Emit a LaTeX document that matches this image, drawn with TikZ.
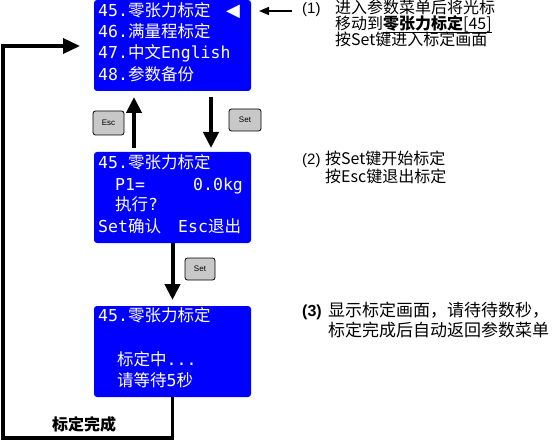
\documentclass[tikz,border=0pt]{standalone}
\usepackage{fontspec}
\setmainfont{Noto Sans CJK SC}
\newfontfamily\monof{DejaVu Sans Mono}
\newfontfamily\symf{DejaVu Sans}
\newfontfamily\latf{Liberation Sans}
\usetikzlibrary{arrows.meta}
\definecolor{lcdblue}{RGB}{0,0,255}
\definecolor{btngray}{RGB}{200,200,200}
\newcommand\mm[1]{{\monof #1}}
\newsavebox\ulbox
\newcommand\myul[1]{\sbox\ulbox{#1}\rlap{\raisebox{-3.5pt}{\rule{\wd\ulbox}{1.6pt}}}\usebox\ulbox}
\begin{document}
\begin{tikzpicture}[x=1pt,y=-1pt,
 lcd/.style={fill=lcdblue, draw=none, rounded corners=3pt, minimum width=157pt, minimum height=91pt, anchor=north west, inner sep=0pt, outer sep=0pt},
 lcdtxt/.style={text=white, font=\fontsize{16.5}{18}\selectfont, anchor=west, inner sep=0pt, text height=0.88em, text depth=0.12em},
 btn/.style={fill=btngray, draw=black, line width=0.8pt, rounded corners=2.5pt, inner sep=0pt, font=\latf\fontsize{8}{9}\selectfont},
 bigarr/.style={line width=4pt, -{Triangle[length=16pt,width=15pt]}},
 looparr/.style={line width=3.5pt, -{Triangle[length=17pt,width=15pt]}},
 note/.style={anchor=west, inner sep=0pt, font=\fontsize{16}{17}\selectfont, text height=0.88em, text depth=0.12em},
 notel/.style={anchor=west, inner sep=0pt, font=\fontsize{17}{18}\selectfont, text height=0.88em, text depth=0.12em},
]
\useasboundingbox (0,0) rectangle (560,441);
% LCD boxes
\node[lcd] (box1) at (94,0) {};
\node[lcd] (box2) at (94,152) {};
\node[lcd] (box3) at (94,306) {};
% box 1 text
\node[lcdtxt] (b1l1) at (98,13) {\mm{45.}零张力标定};
\node[text=white, inner sep=0pt, font=\symf\fontsize{18}{18}\selectfont] (b1cur) at (233,12) {◀};
\node[lcdtxt] (b1l2) at (98,34) {\mm{46.}满量程标定};
\node[lcdtxt] (b1l3) at (98,55) {\mm{47.}中文\mm{English}};
\node[lcdtxt] (b1l4) at (98,77) {\mm{48.}参数备份};
% box 2 text
\node[lcdtxt] (b2l1) at (98,165) {\mm{45.}零张力标定};
\node[lcdtxt] (b2p) at (115,187) {\mm{P1=}};
\node[lcdtxt] (b2v) at (193,187) {\mm{0.0kg}};
\node[lcdtxt] (b2l3) at (115,207) {执行\mm{?}};
\node[lcdtxt] (b2l4a) at (98,229) {\mm{Set}确认};
\node[lcdtxt] (b2l4b) at (178,229) {\mm{Esc}退出};
% box 3 text
\node[lcdtxt] (b3l1) at (98,318) {\mm{45.}零张力标定};
\node[lcdtxt] (b3l2) at (117,362) {标定中\mm{...}};
\node[lcdtxt] (b3l3) at (117,383) {请等待\mm{5}秒};
% buttons
\node[btn, minimum width=31pt, minimum height=24pt] (esc) at (108.5,123) {Esc};
\node[btn, minimum width=32pt, minimum height=22pt] (set1) at (245,120) {Set};
\node[btn, minimum width=30pt, minimum height=22pt] (set2) at (200,269) {Set};
% arrows
\coordinate (escx) at (134,0);
\coordinate (setx) at (211,0);
\draw[bigarr, shorten <=4pt, shorten >=6pt] (box2.north -| escx) -- (box1.south -| escx);
\draw[bigarr, shorten <=6pt, shorten >=4pt] (box1.south -| setx) -- (box2.north -| setx);
\draw[bigarr, shorten >=6pt] (box2.south) -- (box3.north);
\coordinate (bl) at (3,438);
\coordinate (tl) at (3,46);
\draw[looparr, shorten >=14pt] (box3.south) |- (bl) -- (tl) -- (tl -| box1.west);
\node[anchor=west, inner sep=0pt, font=\bfseries\fontsize{16}{17}\selectfont] (done) at (52,424) {标定完成};
% notes
\coordinate (n1) at (292,11);
\draw[line width=1.5pt, -{Triangle[length=10pt,width=8pt]}, shorten >=8pt] (n1) -- (n1 -| box1.east);
\node[note, font=\latf\fontsize{15}{16}\selectfont] (p1) at (302,10) {(1)};
\node[note] (t1a) at (335,10) {进入参数菜单后将光标};
\node[note] (t1b) at (335,26) {移动到\myul{\textbf{零张力标定}[45]}};
\node[note] (t1c) at (335,42) {按Set键进入标定画面};
\node[note, font=\latf\fontsize{15}{16}\selectfont] (p2) at (302,161) {(2)};
\node[note] (t2a) at (325,161) {按Set键开始标定};
\node[note] (t2b) at (325,179) {按Esc键退出标定};
\node[notel, font=\latf\bfseries\fontsize{16}{17}\selectfont] (p3) at (302,313) {(3)};
\node[notel] (t3a) at (328,313) {显示标定画面，请待待数秒，};
\node[notel] (t3b) at (328,333) {标定完成后自动返回参数菜单};
\end{tikzpicture}
\end{document}
